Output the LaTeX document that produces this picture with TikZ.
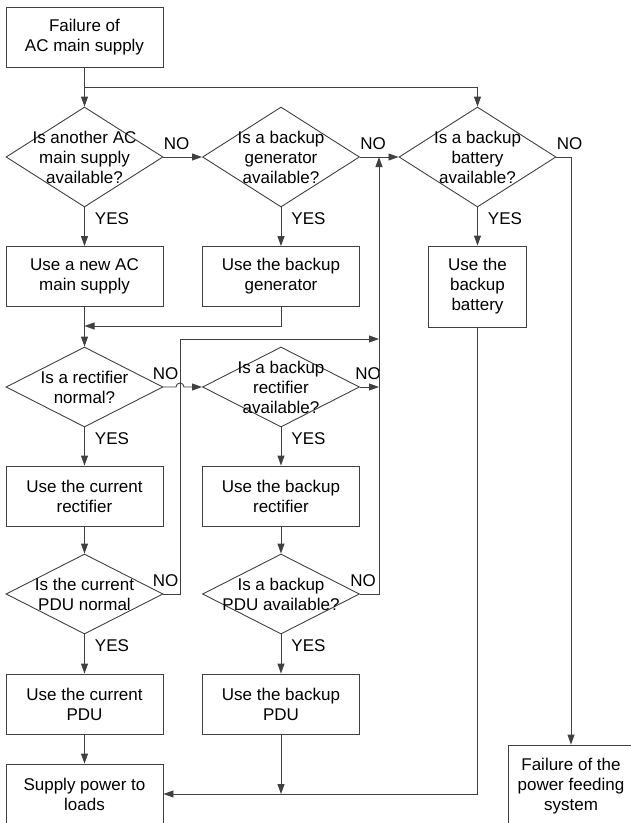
\documentclass[tikz,border=0pt]{standalone}
\usepackage{fontspec}
\setmainfont{Liberation Sans}
\usetikzlibrary{arrows.meta, shapes.geometric}

\begin{document}
\begin{tikzpicture}[x=1pt, y=-1pt, >={Triangle[length=10pt,width=7pt]},
    line width=0.9pt, draw=black!75,
    every node/.style={font=\fontsize{17}{20}\selectfont, text=black},
    box/.style={draw, align=center, inner sep=0pt, minimum width=157pt, minimum height=60pt},
    decision/.style={draw, diamond, inner sep=0pt, minimum width=157pt, minimum height=80pt},
    dtext/.style={align=center, inner sep=0pt},
    yes/.style={anchor=north west, inner sep=0pt, xshift=10pt, yshift=-5pt},
    no/.style={anchor=south west, inner sep=0pt, yshift=7pt}]
    \path[use as bounding box, clip] (0,0) rectangle (631,823);

    % first column
    \node[box] (fail) at (84.5,37) {Failure of\\AC main supply};
    \node[decision, minimum height=100pt, label={[dtext]center:Is another AC\\main supply\\available?}] (acq) at (84.5,157) {};
    \node[box] (newac) at (84.5,276.5) {Use a new AC\\main supply};
    \node[decision, label={[dtext]center:Is a rectifier\\normal?}] (rectq) at (84.5,387) {};
    \node[box] (rect) at (84.5,496) {Use the current\\rectifier};
    \node[decision, label={[dtext]center:Is the current\\PDU normal}] (pduq) at (84.5,594) {};
    \node[box] (pdu) at (84.5,704) {Use the current\\PDU};
    \node[box] (load) at (84.5,794) {Supply power to\\loads};

    % second column
    \node[decision, minimum height=100pt, label={[dtext]center:Is a backup\\generator\\available?}] (genq) at (281,157) {};
    \node[box] (gen) at (281,276.5) {Use the backup\\generator};
    \node[decision, label={[dtext]center:Is a backup\\rectifier\\available?}] (brectq) at (281,387) {};
    \node[box] (brect) at (281,496) {Use the backup\\rectifier};
    \node[decision, label={[dtext]center:Is a backup\\PDU available?}] (bpduq) at (281,594) {};
    \node[box] (bpdu) at (281,704) {Use the backup\\PDU};

    % third column
    \node[decision, minimum height=100pt, label={[dtext]center:Is a backup\\battery\\available?}] (batq) at (477.5,157) {};
    \node[box, minimum width=98pt, minimum height=81pt] (bat) at (477.5,286.5) {Use the\\backup\\battery};
    \node[box, minimum width=126pt, minimum height=82pt] (down) at (571,786) {Failure of the\\power feeding\\system};

    \coordinate (split) at (84.5,87);
    \coordinate (join) at (84.5,326);
    \coordinate (hop) at (180,387);
    \coordinate (by) at (180,339);
    \coordinate (up) at (379,157);
    \coordinate (upin) at (379,339);
    \coordinate (bot) at (281,794);

    \draw (fail) -- (split);
    \draw[->] (split) -- (acq);
    \draw[->] (split) -| (batq);

    \draw[->] (acq) -- (genq) node[no, pos=0] {NO};
    \draw[->] (genq) -- (batq) node[no, pos=0] {NO};
    \draw[->] (batq.east) -| (down) node[no, pos=0] {NO};

    \draw[->] (acq) -- (newac) node[yes, pos=0] {YES};
    \draw[->] (genq) -- (gen) node[yes, pos=0] {YES};
    \draw[->] (batq) -- (bat) node[yes, pos=0] {YES};

    \draw[->] (gen) |- (join);
    \draw[->] (newac) -- (rectq);

    \draw[->] (rectq.east) -- ([xshift=-4pt]hop) node[no, pos=0, xshift=-11pt] {NO}
        arc[start angle=180, end angle=0, radius=4pt] -- (brectq.west);
    \draw[->] (brectq.east) -- (brectq.east -| up) node[no, pos=0, xshift=-5pt] {NO};

    \draw[->] (rectq) -- (rect) node[yes, pos=0] {YES};
    \draw[->] (brectq) -- (brect) node[yes, pos=0] {YES};
    \draw[->] (rect) -- (pduq);
    \draw[->] (brect) -- (bpduq);

    \draw[->] (pduq.east) -| (by) node[no, pos=0, xshift=-11pt] {NO} -- (upin);
    \draw[->] (bpduq.east) -| (up) node[no, pos=0, xshift=-10pt] {NO};

    \draw[->] (pduq) -- (pdu) node[yes, pos=0] {YES};
    \draw[->] (bpduq) -- (bpdu) node[yes, pos=0] {YES};
    \draw[->] (pdu) -- (load);
    \draw[->] (bpdu) -- (bot);
    \draw[->] (bat) |- (load);
\end{tikzpicture}
\end{document}
